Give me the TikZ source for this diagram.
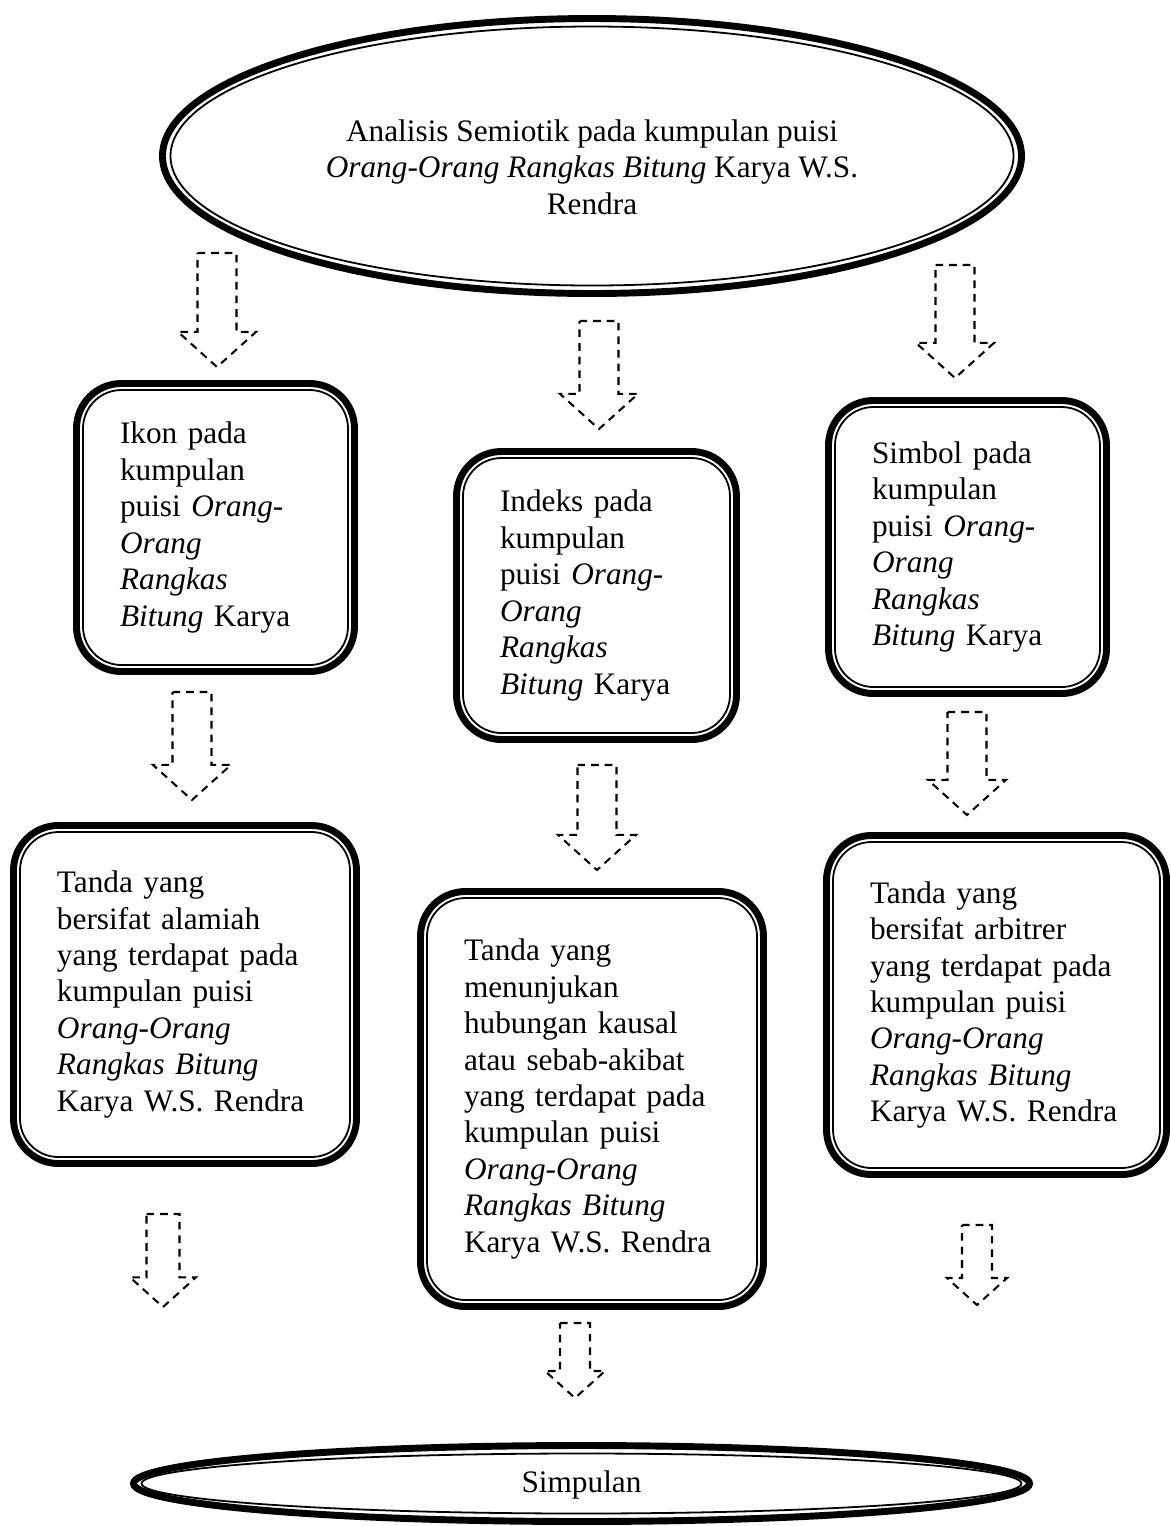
\documentclass[tikz,border=0pt]{standalone}
\usepackage{fontspec}
\setmainfont{Liberation Serif}
\usetikzlibrary{shapes.geometric,fit,positioning}

\newdimen\pxu \pxu=0.39pt

\tikzset{
  isi/.style={draw, line width=0.7pt, rounded corners=15pt, align=left,
    inner xsep=37\pxu, inner ysep=0pt, outer sep=0pt,
    font=\fontsize{12.2}{14.2}\selectfont},
  bingkai/.style={draw, line width=2.7pt, rounded corners=17.5pt,
    inner sep=6.5\pxu, outer sep=0pt},
  elips/.style={ellipse, draw, line width=0.7pt, outer sep=0pt},
  elipsluar/.style={ellipse, draw, line width=2.7pt, outer sep=0pt},
  teks/.style={align=center, font=\fontsize{12.2}{14.2}\selectfont},
  putus/.style={line width=0.8pt, dash pattern=on 3pt off 2.3pt}
}

% panah blok putus-putus: x, atas, ujung, setengah lebar batang
\newcommand{\panah}[4]{%
  \draw[putus] ({#1-#4},#2) -- ({#1+#4},#2) -- ({#1+#4},{#3-1.8*#4})
    -- ({#1+2*#4},{#3-1.8*#4}) -- (#1,#3) -- ({#1-2*#4},{#3-1.8*#4})
    -- ({#1-#4},{#3-1.8*#4}) -- cycle;}

\begin{document}
\begin{tikzpicture}[x=0.39pt, y=-0.39pt]
  \useasboundingbox (0,0) rectangle (1171,1526);

  % judul
  \node[elips, minimum width=843\pxu, minimum height=259\pxu] (judul) at (592,156) {};
  \node[elipsluar, minimum width=859\pxu, minimum height=275\pxu] (judul-luar) at (judul) {};
  \node[teks] (judul-teks) at (592,167)
    {Analisis Semiotik pada kumpulan puisi\\\textit{Orang-Orang Rangkas Bitung} Karya W.S.\\Rendra};

  % baris pertama
  \node[isi, text width=191\pxu, minimum height=275\pxu] (ikon) at (215.5,527.5)
    {Ikon pada\\kumpulan\\puisi \textit{Orang-}\\\textit{Orang}\\\textit{Rangkas}\\\textit{Bitung} Karya};
  \node[bingkai, fit=(ikon)] (ikon-luar) {};
  \node[isi, text width=193\pxu, minimum height=275\pxu] (indeks) at (596.5,595.5)
    {Indeks pada\\kumpulan\\puisi \textit{Orang-}\\\textit{Orang}\\\textit{Rangkas}\\\textit{Bitung} Karya};
  \node[bingkai, fit=(indeks)] (indeks-luar) {};
  \node[isi, text width=191\pxu, minimum height=280\pxu] (simbol) at (967.5,547)
    {Simbol pada\\kumpulan\\puisi \textit{Orang-}\\\textit{Orang}\\\textit{Rangkas}\\\textit{Bitung} Karya};
  \node[bingkai, fit=(simbol)] (simbol-luar) {};

  % baris kedua
  \node[isi, text width=256\pxu, minimum height=325\pxu] (alamiah) at (185,994.5)
    {Tanda yang\\bersifat alamiah\\yang terdapat pada\\kumpulan puisi\\\textit{Orang-Orang}\\\textit{Rangkas Bitung}\\Karya W.S. Rendra};
  \node[bingkai, fit=(alamiah)] (alamiah-luar) {};
  \node[isi, text width=256\pxu, minimum height=402\pxu] (kausal) at (592,1099)
    {Tanda yang\\menunjukan\\hubungan kausal\\atau sebab-akibat\\yang terdapat pada\\kumpulan puisi\\\textit{Orang-Orang}\\\textit{Rangkas Bitung}\\Karya W.S. Rendra};
  \node[bingkai, fit=(kausal)] (kausal-luar) {};
  \node[isi, text width=253\pxu, minimum height=326\pxu] (arbitrer) at (996.5,1005)
    {Tanda yang\\bersifat arbitrer\\yang terdapat pada\\kumpulan puisi\\\textit{Orang-Orang}\\\textit{Rangkas Bitung}\\Karya W.S. Rendra};
  \node[bingkai, fit=(arbitrer)] (arbitrer-luar) {};

  % simpulan
  \node[elips, minimum width=880\pxu, minimum height=60\pxu] (simpulan) at (581.5,1483.5) {};
  \node[elipsluar, minimum width=896\pxu, minimum height=76\pxu] (simpulan-luar) at (simpulan) {};
  \node[teks] (simpulan-teks) at (581.5,1485) {Simpulan};

  % panah
  \panah{217}{253}{367}{19.5}
  \panah{599}{321}{429}{19.5}
  \panah{955}{265}{378}{19.5}
  \panah{192}{692}{800}{19.5}
  \panah{597}{765}{870}{19.5}
  \panah{967}{712}{815}{19.5}
  \panah{163}{1214}{1307}{16.5}
  \panah{575}{1323}{1398}{15}
  \panah{977}{1225}{1305}{15}
\end{tikzpicture}
\end{document}
